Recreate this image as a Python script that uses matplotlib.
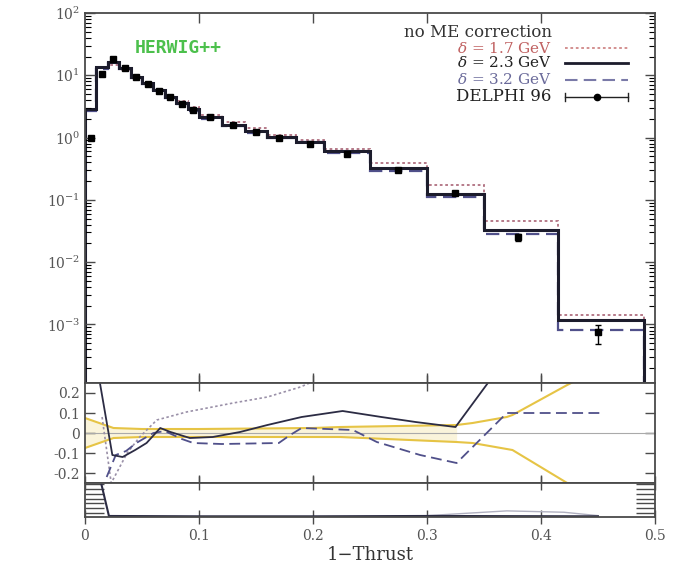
"""Thrust distribution vs DELPHI 96, with ratio and bottom panel."""
import numpy as np
import matplotlib
matplotlib.use("Agg")
import matplotlib.pyplot as plt

plt.rcParams["font.family"] = ["DejaVu Serif"]
plt.rcParams["mathtext.fontset"] = "dejavuserif"

# ---- data ----
edges = [0.0, 0.01, 0.02, 0.03, 0.04, 0.05, 0.06, 0.07, 0.08, 0.09, 0.10,
         0.12, 0.14, 0.16, 0.185, 0.21, 0.25, 0.30, 0.35, 0.415, 0.49]
mc_17 = [2.9, 13.0, 14.5, 12.0, 9.2, 7.4, 5.9, 4.7, 3.8, 3.1,
         2.3, 1.75, 1.4, 1.12, 0.92, 0.66, 0.39, 0.175, 0.045, 0.0014]
mc_23 = [2.9, 13.5, 16.5, 13.0, 9.4, 7.5, 5.8, 4.5, 3.6, 2.9,
         2.1, 1.6, 1.28, 1.02, 0.85, 0.60, 0.33, 0.125, 0.033, 0.0012]
mc_32 = [2.7, 12.5, 16.0, 12.6, 9.1, 7.3, 5.7, 4.3, 3.4, 2.7,
         2.0, 1.52, 1.2, 0.98, 0.84, 0.57, 0.29, 0.11, 0.028, 0.00081]

data_x = [0.005, 0.015, 0.025, 0.035, 0.045, 0.055, 0.065, 0.075, 0.085, 0.095,
          0.11, 0.13, 0.15, 0.17, 0.197, 0.23, 0.275, 0.325, 0.38, 0.45]
data_y = [1.0, 10.5, 18.0, 13.0, 9.5, 7.2, 5.6, 4.4, 3.5, 2.8,
          2.1, 1.6, 1.25, 1.0, 0.8, 0.55, 0.30, 0.13, 0.025, 0.00075]
data_err_lo = [0.03, 0.3, 0.5, 0.4, 0.3, 0.2, 0.15, 0.12, 0.1, 0.08,
               0.06, 0.05, 0.04, 0.03, 0.03, 0.02, 0.012, 0.007, 0.003, 0.00027]
data_err_hi = [0.03, 0.3, 0.5, 0.4, 0.3, 0.2, 0.15, 0.12, 0.1, 0.08,
               0.06, 0.05, 0.04, 0.03, 0.03, 0.02, 0.012, 0.007, 0.003, 0.00022]

# ratio panel curves
r17_x = [0.015, 0.023, 0.037, 0.048, 0.063, 0.089, 0.13, 0.16, 0.189, 0.205]
r17_y = [0.08, -0.25, -0.10, -0.02, 0.065, 0.105, 0.15, 0.18, 0.23, 0.27]
r23_x = [0.0125, 0.024, 0.033, 0.044, 0.054, 0.066, 0.075, 0.092, 0.112, 0.136,
         0.16, 0.19, 0.226, 0.26, 0.29, 0.325, 0.356]
r23_y = [0.27, -0.11, -0.12, -0.085, -0.05, 0.025, 0.005, -0.025, -0.02, 0.005,
         0.04, 0.08, 0.11, 0.08, 0.055, 0.03, 0.27]
r32_x = [0.019, 0.027, 0.036, 0.045, 0.06, 0.07, 0.085, 0.095, 0.12, 0.17,
         0.18, 0.19, 0.235, 0.256, 0.294, 0.326, 0.37, 0.452]
r32_y = [-0.22, -0.11, -0.09, -0.05, 0.0, 0.01, -0.03, -0.05, -0.055, -0.05,
         -0.01, 0.025, 0.015, -0.045, -0.11, -0.15, 0.10, 0.10]
band_x = [0.0, 0.025, 0.05, 0.10, 0.20, 0.224, 0.326, 0.34, 0.37, 0.375, 0.423, 0.43]
band_hi = [0.075, 0.025, 0.02, 0.02, 0.025, 0.03, 0.04, 0.05, 0.08, 0.09, 0.24, 0.26]
band_lo = [-0.075, -0.025, -0.02, -0.02, -0.02, -0.02, -0.045, -0.05, -0.08, -0.085, -0.25, -0.26]

# bottom panel curves
b_x = [0.0145, 0.021, 0.1, 0.2, 0.3, 0.45]
b_y = [0.95, 0.03, 0.02, 0.02, 0.03, 0.02]
b2_x = [0.30, 0.37, 0.42, 0.45]
b2_y = [0.04, 0.18, 0.14, 0.04]

c_17 = "#b07080"
c_23 = "#1c1c2c"
c_32 = "#50508a"
c_yel = "#e6c445"
c_ax = "#4a4a4a"
c_txt = "#555555"

fig = plt.figure(figsize=(6.81, 5.69), dpi=100)
L, W = 0.1248, 0.837
ax = fig.add_axes([L, 0.3269, W, 0.6503])
axr = fig.add_axes([L, 0.1511, W, 0.1758])
axb = fig.add_axes([L, 0.0914, W, 0.0597])

for a in (ax, axr, axb):
    for s in a.spines.values():
        s.set_color(c_ax)
        s.set_linewidth(1.3)
    a.set_xlim(0, 0.5)
    a.tick_params(colors=c_ax, labelcolor=c_txt, labelsize=10)

# ---- main panel ----
base = 1e-6
ax.stairs(mc_17, edges, baseline=base, color=c_17, lw=1.3, ls=(0, (1.5, 1.5)))
ax.stairs(mc_32, edges, baseline=base, color=c_32, lw=1.6, ls=(0, (6, 3)))
ax.stairs(mc_23, edges, baseline=base, color=c_23, lw=2.2)
ax.errorbar(data_x, data_y, yerr=[data_err_lo, data_err_hi], fmt="s", ms=4.5,
            color="black", ecolor="black", elinewidth=1.0, capsize=2.5, zorder=5)
ax.set_yscale("log")
ax.set_ylim(1.15e-4, 100)
ax.set_yticks([1e-3, 1e-2, 1e-1, 1, 10, 100])
ax.set_yticklabels([r"$10^{-3}$", r"$10^{-2}$", r"$10^{-1}$", r"$10^{0}$",
                    r"$10^{1}$", r"$10^{2}$"])
ax.set_xticks([0.1, 0.2, 0.3, 0.4])
ax.tick_params(axis="both", which="both", direction="in", top=True, right=True)
ax.tick_params(axis="both", which="major", length=7, width=1.0)
ax.tick_params(axis="both", which="minor", length=4, width=0.8)
ax.tick_params(axis="x", labelbottom=False)

ax.text(0.0875, 0.905, "HERWIG++", transform=ax.transAxes, color="#4cc04c",
        family="DejaVu Sans Mono", fontweight="bold", fontsize=13, va="center")

# legend drawn by hand
tx, lx0, lx1 = 0.819, 0.842, 0.953
rows = [0.946, 0.905, 0.865, 0.819, 0.773]
ax.text(tx, rows[0], "no ME correction", transform=ax.transAxes, ha="right",
        va="center", fontsize=12, color="#333333")
ax.text(tx, rows[1], r"$\delta$ = 1.7 GeV", transform=ax.transAxes, ha="right",
        va="center", fontsize=11, color="#c06060")
ax.plot([lx0, lx1], [rows[1]] * 2, transform=ax.transAxes, color="#d08888",
        lw=1.3, ls=(0, (1.5, 1.5)))
ax.text(tx, rows[2], r"$\delta$ = 2.3 GeV", transform=ax.transAxes, ha="right",
        va="center", fontsize=11, color="#222222")
ax.plot([lx0, lx1], [rows[2]] * 2, transform=ax.transAxes, color=c_23, lw=2.0)
ax.text(tx, rows[3], r"$\delta$ = 3.2 GeV", transform=ax.transAxes, ha="right",
        va="center", fontsize=11, color="#6a6a9a")
ax.plot([lx0, lx1], [rows[3]] * 2, transform=ax.transAxes, color="#7a7aa8",
        lw=1.5, ls=(0, (6, 3)))
ax.text(tx, rows[4], "DELPHI 96", transform=ax.transAxes, ha="right",
        va="center", fontsize=12, color="#222222")
ax.plot([lx0, lx1], [rows[4]] * 2, transform=ax.transAxes, color="#222222", lw=1.0)
ax.plot([lx0, lx0], [rows[4] - 0.012, rows[4] + 0.012], transform=ax.transAxes,
        color="#222222", lw=1.0)
ax.plot([lx1, lx1], [rows[4] - 0.012, rows[4] + 0.012], transform=ax.transAxes,
        color="#222222", lw=1.0)
ax.plot([(lx0 + lx1) / 2], [rows[4]], "o", ms=4.5, color="black",
        transform=ax.transAxes)

# ---- ratio panel ----
axr.axhline(0, color="#aaaaaa", lw=0.8)
fill_n = 7  # shade the band only where it stays narrow
axr.fill_between(band_x[:fill_n], band_lo[:fill_n], band_hi[:fill_n],
                 color="#f6eab8", alpha=0.5, lw=0)
axr.plot(band_x, band_hi, color=c_yel, lw=1.5)
axr.plot(band_x, band_lo, color=c_yel, lw=1.5)
axr.plot(r17_x, r17_y, color="#9a90a8", lw=1.2, ls=(0, (1.5, 1.5)))
axr.plot(r32_x, r32_y, color=c_32, lw=1.3, ls=(0, (6, 3)))
axr.plot(r23_x, r23_y, color="#2c2c44", lw=1.3)
axr.set_ylim(-0.25, 0.25)
axr.set_yticks([-0.2, -0.1, 0, 0.1, 0.2])
axr.set_yticklabels(["-0.2", "-0.1", "0", "0.1", "0.2"])
axr.set_xticks([0.1, 0.2, 0.3, 0.4])
axr.tick_params(axis="x", direction="inout", length=12, width=1.0,
                top=True, labelbottom=False)
axr.tick_params(axis="y", direction="in", length=7, width=1.0, right=True)

# ---- bottom panel ----
axb.plot(b2_x, b2_y, color="#b0b0c0", lw=1.0)
axb.plot(b_x, b_y, color="#2c2c44", lw=1.5)
axb.set_ylim(0, 1)
axb.set_yticks(np.linspace(0.12, 0.96, 7))
axb.set_yticklabels([])
axb.tick_params(axis="y", direction="in", length=14, width=1.0, right=True)
axb.set_xticks([0, 0.1, 0.2, 0.3, 0.4, 0.5])
axb.set_xticklabels(["0", "0.1", "0.2", "0.3", "0.4", "0.5"])
axb.tick_params(axis="x", direction="inout", length=10, width=1.0, top=True,
                pad=4, labelsize=10)
axb.set_xlabel("1\u2212Thrust", fontsize=13, color="#333333", labelpad=2)

fig.savefig("out.png", dpi=100)
